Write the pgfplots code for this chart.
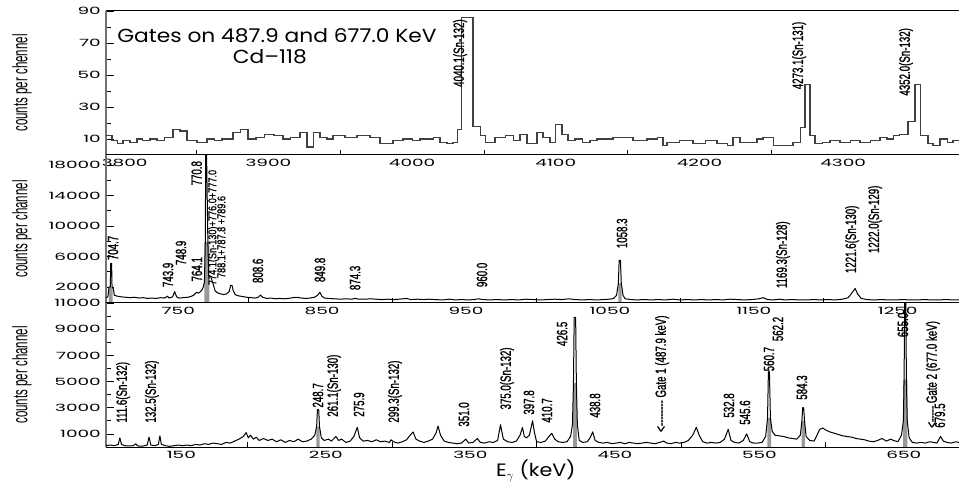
\documentclass[border=0pt]{standalone}
\usepackage{pgfplots}
\pgfplotsset{compat=1.18}
\usepackage{fontspec}
\setmainfont{Liberation Sans}
\newfontfamily\geo[FakeStretch=1.85]{Poppins}
\newfontfamily\geotitle[FakeStretch=1.15]{Poppins}
\newfontfamily\narrow[FakeStretch=0.65, FakeBold=1]{Liberation Sans}
\newfontfamily\smallnarrow[FakeStretch=0.8, FakeBold=0.6]{Liberation Sans}
\newfontfamily\ylab[FakeStretch=0.55]{Liberation Sans}

\tikzset{
  lbl/.style={font=\narrow\fontsize{15}{15}\selectfont, rotate=90, anchor=west, inner sep=0pt},
  smalllbl/.style={lbl, font=\smallnarrow\fontsize{11.5}{11.5}\selectfont},
}
\pgfplotsset{
  panel/.style={
    scale only axis, width=853bp, anchor=south west,
    axis y line*=left, axis x line*=box, xtick pos=bottom,
    axis line style={-, line width=1bp},
    y axis line style={-, line width=2.2bp, black!55},
    tick align=inside,
    major tick length=8bp, minor tick length=5bp,
    every tick/.style={black, line width=0.7bp},
    major x tick style={opacity=0},
    minor x tick num=1, minor y tick num=1,
    scaled ticks=false,
    /pgf/number format/1000 sep={},
    /pgf/number format/assume math mode=true,
    ticklabel style={font=\geo\fontsize{10}{10}\selectfont},
    yticklabel style={inner sep=0pt, xshift=-5bp},
    xticklabel style={inner sep=0pt, yshift=-4bp},
    ylabel style={font=\ylab\fontsize{21}{21}\selectfont,
      at={(axis description cs:-0.0985,0.5)}, anchor=center},
    clip=true,
  },
  spec/.style={black, line width=1bp, line join=round, sharp plot, no markers},
  peakfill/.style={fill=black!40, draw=none, no markers},
}

\begin{document}
\begin{tikzpicture}
\path[use as bounding box] (0,0) rectangle (959bp,484bp);

% ---------- high-energy part ----------
\begin{axis}[panel, at={(106bp,329bp)}, height=144bp,
  xmin=3787, xmax=4380.6, ymin=0, ymax=90,
  xtick={3800,3900,...,4300}, ytick={10,30,50,70,90},
  ylabel={counts per chennel}]
\addplot[const plot, black!75, line width=1.1bp, no markers] coordinates {
(3787.0,12) (3791.2,9) (3794.7,7) (3798.8,9) (3803.7,8) (3808.6,10) (3812.7,9)
(3817.6,10) (3822.5,9) (3827.4,11) (3833.6,16) (3838.5,15) (3843.4,9) (3850.3,8)
(3857.3,10) (3862.2,9) (3867.7,10) (3875.4,14) (3880.3,16) (3885.8,10) (3891.4,11)
(3897.6,13) (3903.9,12) (3910.2,10) (3915.7,11) (3922.0,14) (3926.9,5) (3931.1,14)
(3935.9,11) (3940.8,10) (3945.0,12) (3953.3,11) (3961.7,12) (3970.7,11) (3977.7,7)
(3986.7,9) (3993.7,10) (4000.6,9) (4005.5,10) (4014.6,11) (4019.4,8) (4024.3,7)
(4028.5,8) (4031.3,16) (4034.7,86) (4042.4,18) (4047.3,12) (4050.8,8) (4057.7,11)
(4064.7,12) (4070.3,9) (4075.1,13) (4080.0,7) (4086.9,14) (4091.1,11) (4096.0,8)
(4099.5,19) (4104.3,13) (4108.5,9) (4113.4,10) (4118.9,8) (4123.8,9) (4128.7,10)
(4139.8,11) (4153.7,9) (4163.5,10) (4170.5,11) (4174.6,6) (4177.4,8) (4186.4,9)
(4195.5,7) (4203.9,9) (4212.2,7) (4219.2,6) (4223.3,11) (4228.2,8) (4240.0,10)
(4244.2,11) (4251.2,6) (4265.1,8) (4270.0,17) (4273.4,44) (4276.9,12) (4280.4,7)
(4285.3,8) (4290.8,9) (4297.8,8) (4304.8,9) (4311.7,8) (4318.7,9) (4325.6,11)
(4330.5,10) (4334.7,12) (4339.5,13) (4345.1,21) (4350.0,44) (4353.5,12) (4359.0,7)
(4362.5,6) (4367.4,10) (4372.3,8) (4376.4,9) (4380.6,9)};
\node[font=\geotitle\fontsize{19}{19}\selectfont] at (axis cs:3906,74.5) {Gates on 487.9 and 677.0 KeV};
\node[font=\geotitle\fontsize{19}{19}\selectfont] at (axis cs:3901,61.5) {Cd\textendash118};
\node[lbl] at (axis cs:4033.4,42.5) {4040.1(Sn-132)};
\node[lbl] at (axis cs:4269.3,41) {4273.1(Sn-131)};
\node[lbl] at (axis cs:4343.7,37) {4352.0(Sn-132)};
\end{axis}

% ---------- middle part ----------
\begin{axis}[panel, at={(106bp,181bp)}, height=148bp,
  xmin=701.2, xmax=1294, ymin=-100, ymax=19310,
  xtick={750,850,...,1250}, ytick={2000,6000,...,18000},
  xticklabel style={xshift=2bp},
  ylabel={counts per channel}]
\addplot[peakfill] coordinates {(703.2,0) (703.2,2000) (705.8,2000) (705.8,0)} \closedcycle;
\addplot[peakfill] coordinates {(769.6,0) (769.6,7900) (773.0,7900) (773.0,0)} \closedcycle;
\addplot[peakfill] coordinates {(1057.2,0) (1057.2,2500) (1059.5,2500) (1059.5,0)} \closedcycle;
\addplot[spec] coordinates {
(701.2,600) (702.5,700) (703.3,2000) (704.2,2000) (704.5,5100) (705.1,5100) (705.4,2000)
(706.3,1800) (707,900) (709,800) (712,700) (715,650) (718,600) (721,650) (724,550)
(727,600) (730,500) (733,550) (736,500) (739,600) (742,550) (743.9,800) (745,550)
(747.5,700) (748.9,1400) (750.3,700) (752,550) (755,600) (758,650) (760,750) (762,900)
(764.1,1300) (765.5,1200) (767,1400) (768.5,1800) (769.6,2600) (770.2,7900) (770.5,19300)
(771.1,19300) (771.5,14300) (772,7900) (772.6,3500) (774.1,3300) (775.5,2500) (777,1500)
(779,1200) (781,1100) (783,1000) (785,1100) (786.8,1400) (787.8,2200) (788.8,2200)
(789.6,1500) (791,1000) (793,850) (796,750) (799,650) (802,600) (805,550) (807,650)
(808.6,950) (810,650) (813,500) (816,550) (819,450) (822,500) (825,450) (828,500)
(831,600) (834,650) (837,550) (840,500) (843,550) (846,650) (848.2,900) (849.8,1300)
(851.2,800) (853,550) (856,500) (860,450) (864,400) (868,450) (872,400) (874.3,500)
(877,400) (881,400) (885,450) (889,400) (893,350) (897,400) (901,350) (905,400)
(910,500) (913,350) (918,400) (922,350) (926,400) (930,350) (935,300) (940,400)
(944,300) (948,350) (953,300) (957,350) (960,450) (963,350) (968,300) (973,350)
(978,300) (983,350) (988,300) (993,400) (998,350) (1003,300) (1008,350) (1013,400)
(1018,350) (1023,450) (1027,350) (1032,300) (1037,350) (1042,300) (1047,350)
(1051,400) (1054,500) (1056,900) (1057.3,2500) (1057.8,5500) (1058.7,5500)
(1059.3,2500) (1060.5,900) (1062,450) (1066,350) (1070,300) (1075,350) (1080,300)
(1085,350) (1090,300) (1095,400) (1100,300) (1105,350) (1110,300) (1115,350)
(1120,300) (1125,350) (1130,300) (1135,400) (1140,350) (1145,300) (1150,350)
(1155,450) (1158,600) (1161,350) (1165,300) (1169.3,400) (1173,300) (1178,350)
(1183,300) (1188,300) (1193,350) (1198,300) (1203,350) (1208,300) (1213,400)
(1217,600) (1219.5,1200) (1221.8,1800) (1223.5,1100) (1226,500) (1230,350)
(1235,300) (1240,350) (1245,300) (1250,300) (1255,350) (1260,300) (1265,300)
(1270,350) (1275,300) (1280,300) (1285,350) (1290,300) (1294,300)};
\node[lbl] at (axis cs:706.1,5500) {704.7};
\node[lbl] at (axis cs:744.3,1965) {743.9};
\node[lbl] at (axis cs:753.3,4850) {748.9};
\node[lbl] at (axis cs:764.4,2700) {764.1};
\node[lbl] at (axis cs:764.2,15300) {770.8};
\node[smalllbl] at (axis cs:775.8,2230) {774.1(Sn-130)+776.0+777.0};
\node[smalllbl] at (axis cs:781.4,3150) {788.1+787.8 +789.6};
\node[lbl] at (axis cs:806.8,2500) {808.6};
\node[lbl] at (axis cs:849.9,2620) {849.8};
\node[lbl] at (axis cs:874.3,1570) {874.3};
\node[lbl] at (axis cs:962.5,1965) {960.0};
\node[lbl] at (axis cs:1059.8,7070) {1058.3};
\node[lbl] at (axis cs:1171.7,1830) {1169.3(Sn-128)};
\node[lbl] at (axis cs:1219.7,3800) {1221.6(Sn-130)};
\node[lbl] at (axis cs:1235.7,6420) {1222.0(Sn-129)};
\end{axis}

% ---------- low-energy part ----------
\begin{axis}[panel, at={(106bp,37bp)}, height=144bp,
  xmin=102, xmax=692.3, ymin=0, ymax=11000,
  xtick={150,250,...,650}, ytick={1000,3000,...,11000},
  xticklabel style={xshift=6bp},
  ylabel={counts per channel},
  xlabel={E$_{\gamma}$ (keV)},
  xlabel style={font=\geotitle\fontsize{18}{18}\selectfont,
    at={(axis description cs:0.504,-0.167)}, anchor=center}]
\addplot[peakfill] coordinates {(247.6,0) (247.6,1550) (249.9,1550) (249.9,0)} \closedcycle;
\addplot[peakfill] coordinates {(425.2,0) (425.2,4900) (427.8,4900) (427.8,0)} \closedcycle;
\addplot[peakfill] coordinates {(559.6,0) (559.6,2200) (562.2,2200) (562.2,0)} \closedcycle;
\addplot[peakfill] coordinates {(583.4,0) (583.4,2000) (585.6,2000) (585.6,0)} \closedcycle;
\addplot[peakfill] coordinates {(653.6,0) (653.6,5150) (656.6,5150) (656.6,0)} \closedcycle;
\addplot[spec] coordinates {
(102,100) (105,150) (108,100) (110.5,200) (111.6,700) (112.7,200) (115,100) (118,80)
(121,100) (122.5,250) (124,80) (127,60) (130.5,150) (131.8,750) (133,150) (136,100)
(138.3,200) (139.3,850) (140.3,200) (143,100) (146,50) (149,100) (152,150) (155,100)
(158,150) (161,100) (164,200) (167,150) (170,250) (173,200) (176,300) (179,250)
(182,200) (185,350) (188,300) (191,450) (194,600) (197,800) (199,1100) (200.5,700)
(202,900) (204,600) (206,750) (208,500) (211,650) (214,500) (217,600) (220,400)
(223,550) (226,350) (229,500) (232,400) (235,600) (238,400) (241,450) (244,600)
(246.5,900) (247.8,1600) (248.3,2850) (249.2,2850) (249.7,1600) (251,700) (253,500)
(256,600) (258,450) (261.1,800) (263,500) (265,600) (268,350) (271,450) (273.5,800)
(275.9,1500) (277.5,700) (280,450) (283,500) (286,400) (289,550) (292,400) (295,450)
(298,350) (299.3,550) (301,400) (304,300) (307,400) (310,550) (312.5,900) (314.5,1150)
(316.5,600) (319,450) (322,350) (325,450) (328,600) (330.5,1100) (331.8,1600)
(333.5,900) (336,450) (339,350) (342,300) (345,250) (348,300) (351,600) (353,300)
(356,350) (359,650) (361,350) (364,300) (367,400) (370,350) (373,500) (375,1700)
(377,600) (380,400) (383,350) (386,450) (388.5,900) (390.2,1500) (391.5,800)
(393,700) (395,900) (397.2,2000) (398.5,1100) (400,400) (403,350) (406,450)
(408.5,800) (410.5,1050) (412.5,600) (415,400) (418,350) (421,400) (423.5,800)
(424.8,1700) (425.5,4900) (426,9900) (427,9900) (427.5,4900) (428.2,1700) (429.5,500)
(432,350) (435,400) (437,700) (438.8,1150) (440.5,500) (443,350) (446,300) (449,350)
(452,250) (455,300) (458,350) (461,250) (464,350) (467,300) (470,250) (473,300)
(476,350) (479,300) (482,250) (485,350) (487.9,450) (490,300) (493,250) (496,350)
(499,300) (502,350) (505,500) (508,900) (510.5,1500) (512.5,900) (515,400) (518,300)
(521,350) (524,300) (527,350) (530,600) (532.6,1350) (534.5,500) (537,350) (540,300)
(543,500) (545.4,1000) (547.5,400) (550,300) (553,300) (556,350) (558.5,800)
(559.8,2200) (560.4,5750) (561.1,5750) (561.8,2200) (563,1200) (565,900) (568,850)
(571,800) (574,700) (577,650) (580,600) (582.5,900) (583.6,2000) (584.1,3000)
(584.8,3000) (585.4,2000) (586.5,800) (589,500) (592,450) (594,900) (596,1350)
(598,1450) (600,1300) (603,1150) (606,1050) (609,950) (612,850) (615,800) (618,750)
(621,650) (624,600) (627,550) (630,450) (633,400) (636,500) (639,650) (642,450)
(645,600) (647,500) (650,400) (652.5,900) (653.8,2000) (654.3,5150) (654.7,11000)
(655.5,11000) (655.9,5150) (656.5,2000) (657.8,700) (660,350) (663,300) (666,350)
(669,300) (672,400) (675,350) (677,300) (679.5,800) (681.5,450) (684,350) (687,300)
(690,400) (692.3,350)};
\node[lbl] at (axis cs:113.8,1850) {111.6(Sn-132)};
\node[lbl] at (axis cs:133.8,1850) {132.5(Sn-132)};
\node[lbl] at (axis cs:248.7,3000) {248.7};
\node[lbl] at (axis cs:259.8,2300) {261.1(Sn-130)};
\node[lbl] at (axis cs:277.1,2300) {275.9};
\node[lbl] at (axis cs:302,1850) {299.3(Sn-132)};
\node[lbl] at (axis cs:349.7,1540) {351.0};
\node[lbl] at (axis cs:379.5,2850) {375.0(Sn-132)};
\node[lbl] at (axis cs:394.7,2460) {397.8};
\node[lbl] at (axis cs:407.2,1850) {410.7};
\node[lbl] at (axis cs:417.6,7700) {426.5};
\node[lbl] at (axis cs:440.4,2230) {438.8};
\node[lbl] at (axis cs:486.8,1150) {\textless-{}-{}-{}-{}-{}-{}-{}- Gate 1 (487.9 keV)};
\node[lbl] at (axis cs:533.1,2230) {532.8};
\node[lbl] at (axis cs:544.2,1690) {545.6};
\node[lbl] at (axis cs:560.8,5770) {560.7};
\node[lbl] at (axis cs:567,8070) {562.2};
\node[lbl] at (axis cs:583.6,3600) {584.3};
\node[lbl] at (axis cs:653.5,8380) {655.0};
\node[lbl] at (axis cs:674.3,1460) {\textless-{}-{}-{}-{}- Gate 2 (677.0 keV)};
\node[lbl] at (axis cs:679.1,1460) {679.5};
\end{axis}
\end{tikzpicture}
\end{document}
